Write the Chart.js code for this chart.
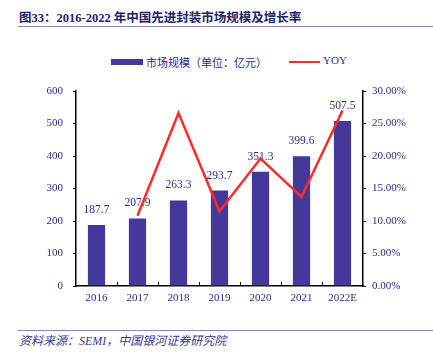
<!DOCTYPE html>
<html>
<head>
<meta charset="utf-8">
<script src="https://cdn.jsdelivr.net/npm/chart.js@4.4.1/dist/chart.umd.min.js"></script>
<style>
  html, body { margin: 0; padding: 0; background: #fff; }
  #wrap { position: relative; width: 433px; height: 356px; overflow: hidden; }
  #c { position: absolute; left: 0; top: 0; }
  .title { position: absolute; left: 19px; top: 7px; font: bold 12.5px "Liberation Serif", "Noto Sans CJK SC", serif; color: #22226b; white-space: nowrap; }
  .rule { position: absolute; left: 18px; right: 0; height: 1px; background: #8a86c8; }
  .legend { position: absolute; top: 54px; font: 11px "Liberation Serif", "Noto Sans CJK SC", serif; color: #2b2b8a; white-space: nowrap; }
  .sw { position: absolute; }
  .src { position: absolute; left: 19px; top: 331px; font: italic 12px "Liberation Serif", "Noto Sans CJK SC", serif; color: #3a3a8e; white-space: nowrap; }
</style>
</head>
<body>
<div id="wrap">
  <div class="title">图33：2016-2022 年中国先进封装市场规模及增长率</div>
  <div class="rule" style="top:26px"></div>
  <div class="sw" style="left:111px; top:59px; width:32px; height:6px; background:#44389a"></div>
  <div class="legend" style="left:146px">市场规模（单位：亿元）</div>
  <div class="sw" style="left:289px; top:61px; width:31px; height:2px; background:#ff2a2a"></div>
  <div class="legend" style="left:323px">YOY</div>
  <div class="rule" style="top:330px"></div>
  <div class="src">资料来源：SEMI，中国银河证券研究院</div>
  <canvas id="c" width="433" height="356"></canvas>
</div>
<script>
const years = ['2016', '2017', '2018', '2019', '2020', '2021', '2022E'];
const marketSize = [187.7, 207.9, 263.3, 293.7, 351.3, 399.6, 507.5];
const yoy = [null, 10.8, 26.6, 11.5, 19.6, 13.7, 27.0];
const leftTicks = [0, 100, 200, 300, 400, 500, 600];
const rightTicks = [0, 5, 10, 15, 20, 25, 30];

const textColor = '#2b2b8a';
const tickFont = { family: '"Liberation Serif", serif', size: 11 };

const labelPlugin = {
  id: 'barLabels',
  afterDatasetDraw(chart, args) {
    if (args.index !== 0) return;
    const ctx = chart.ctx;
    const meta = chart.getDatasetMeta(0);
    ctx.save();
    ctx.font = '11.5px "Liberation Serif", serif';
    ctx.fillStyle = textColor;
    ctx.textAlign = 'center';
    ctx.textBaseline = 'middle';
    meta.data.forEach((bar, i) => {
      ctx.fillText(marketSize[i].toFixed(1), bar.x, bar.y - 15);
    });
    ctx.restore();
  }
};

const xTickPlugin = {
  id: 'xInnerTicks',
  afterDraw(chart) {
    const x = chart.scales.x;
    const ctx = chart.ctx;
    const bottom = chart.chartArea.bottom;
    ctx.save();
    ctx.strokeStyle = '#000';
    ctx.lineWidth = 1;
    for (let i = 1; i < years.length; i++) {
      const px = Math.round((x.getPixelForValue(i - 1) + x.getPixelForValue(i)) / 2) + 0.5;
      ctx.beginPath();
      ctx.moveTo(px, bottom);
      ctx.lineTo(px, bottom - 4);
      ctx.stroke();
    }
    ctx.restore();
  }
};

new Chart(document.getElementById('c'), {
  data: {
    labels: years,
    datasets: [
      {
        type: 'bar',
        label: '市场规模（单位：亿元）',
        data: marketSize,
        backgroundColor: '#44389a',
        yAxisID: 'y',
        barPercentage: 0.42,
        categoryPercentage: 1,
        order: 1
      },
      {
        type: 'line',
        label: 'YOY',
        data: yoy,
        borderColor: '#ff2a2a',
        borderWidth: 2.5,
        pointRadius: 0,
        tension: 0,
        yAxisID: 'y1',
        order: 0
      }
    ]
  },
  options: {
    responsive: false,
    animation: false,
    layout: { padding: { left: 20, right: 0, top: 91, bottom: 0 } },
    plugins: { legend: { display: false }, tooltip: { enabled: false } },
    scales: {
      x: {
        grid: { display: false, drawTicks: false },
        border: { color: '#000', width: 1.5 },
        ticks: { color: textColor, font: tickFont, padding: 6, maxRotation: 0 },
        afterFit(s) { s.height = 70; }
      },
      y: {
        position: 'left',
        min: 0, max: 600,
        afterBuildTicks(s) { s.ticks = leftTicks.map(v => ({ value: v })); },
        grid: { drawOnChartArea: false, drawTicks: true, tickLength: 3, color: '#000' },
        border: { color: '#000', width: 1.5 },
        ticks: { color: textColor, font: tickFont, padding: 10 },
        afterFit(s) { s.width = 56; }
      },
      y1: {
        position: 'right',
        min: 0, max: 30,
        afterBuildTicks(s) { s.ticks = rightTicks.map(v => ({ value: v })); },
        grid: { drawOnChartArea: false, drawTicks: true, tickLength: 3, color: '#000' },
        border: { color: '#000', width: 1.5 },
        ticks: { color: textColor, font: tickFont, padding: 6, callback: v => v.toFixed(2) + '%' },
        afterFit(s) { s.width = 70; }
      }
    }
  },
  plugins: [labelPlugin, xTickPlugin]
});
</script>
</body>
</html>
